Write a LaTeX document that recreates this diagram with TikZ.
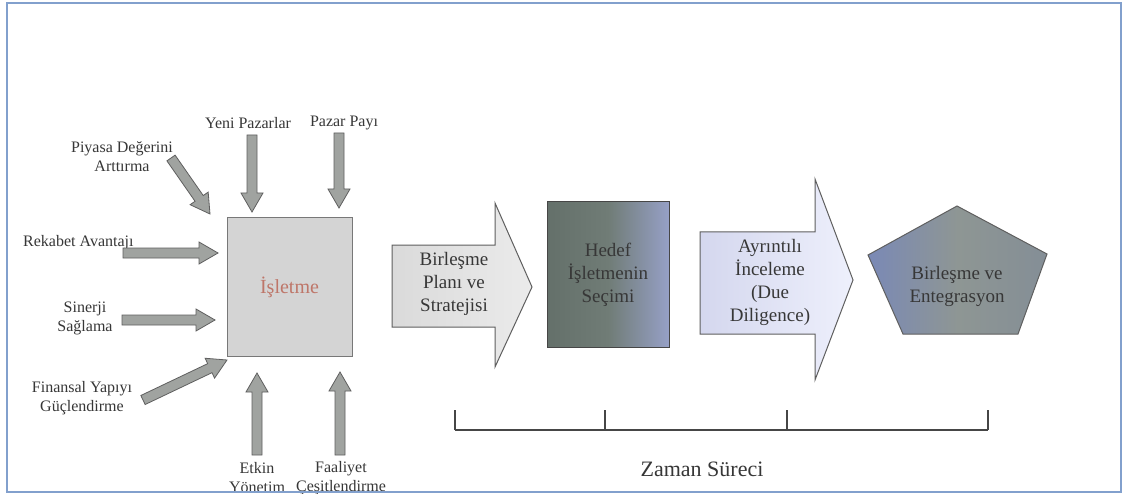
\documentclass[tikz,border=0pt]{standalone}
\usepackage{fontspec}
\setmainfont{Liberation Serif}
\usetikzlibrary{calc}

\definecolor{framecol}{RGB}{130,160,205}
\definecolor{labelcol}{RGB}{55,55,55}
\definecolor{boxfill}{RGB}{212,212,212}
\definecolor{boxline}{RGB}{120,120,120}
\definecolor{istext}{RGB}{190,118,105}
\definecolor{arrowfill}{RGB}{160,163,160}
\definecolor{arrowline}{RGB}{95,95,95}
\definecolor{planL}{RGB}{218,218,218}
\definecolor{planR}{RGB}{235,235,235}
\definecolor{hedefL}{RGB}{100,112,106}
\definecolor{hedefM}{RGB}{112,124,118}
\definecolor{hedefR}{RGB}{150,160,198}
\definecolor{incL}{RGB}{212,215,238}
\definecolor{incR}{RGB}{238,240,252}
\definecolor{pentL}{RGB}{122,137,182}
\definecolor{pentM}{RGB}{142,150,148}
\definecolor{pentR}{RGB}{132,142,150}
\definecolor{linecol}{RGB}{70,70,70}

% gray block arrow between two named coordinates
\newcommand{\fatarrow}[2]{%
  \filldraw[smallarrow] ($(#1)!5pt!90:(#2)$)
    -- ($(#2)!19pt!(#1)!5pt!90:(#2)$)
    -- ($(#2)!19pt!(#1)!11pt!90:(#2)$)
    -- (#2)
    -- ($(#2)!19pt!(#1)!11pt!-90:(#2)$)
    -- ($(#2)!19pt!(#1)!5pt!-90:(#2)$)
    -- ($(#1)!5pt!-90:(#2)$) -- cycle;}

\begin{document}
\begin{tikzpicture}[x=1pt, y=-1pt,
  lbl/.style={text=labelcol, align=center, inner sep=0pt, font=\fontsize{16}{19}\selectfont},
  inner/.style={text=labelcol, align=center, inner sep=0pt, font=\fontsize{19}{23}\selectfont},
  smallarrow/.style={fill=arrowfill, draw=arrowline, line width=0.8pt, line join=miter},
  bigarrow/.style={draw=arrowline, line width=1pt},
  isbox/.style={draw=boxline, fill=boxfill, line width=1pt, minimum width=125pt, minimum height=138pt,
    text=istext, font=\fontsize{20}{24}\selectfont},
  hedefbox/.style={draw=linecol, left color=hedefL, right color=hedefR, middle color=hedefM,
    line width=1pt, minimum width=122pt, minimum height=145pt, align=center, text=labelcol,
    font=\fontsize{19}{23}\selectfont},
  timeline/.style={draw=linecol, line width=2.5pt}]

\useasboundingbox (0,0) rectangle (1123,494);
\clip (0,0) rectangle (1123,494);
\fill[white] (0,0) rectangle (1123,494);

% centre box
\node[isbox] (isletme) at (289.5,287) {İşletme};

% labels round the box
\node[lbl] (piyasa) at (122,157) {Piyasa Değerini\\Arttırma};
\node[lbl, anchor=west] (rekabet) at (23,243) {Rekabet Avantajı};
\node[lbl] (sinerji) at (85,318) {Sinerji\\Sağlama};
\node[lbl] (finansal) at (82,398) {Finansal Yapıyı\\Güçlendirme};
\node[lbl] (yeni) at (248,123) {Yeni Pazarlar};
\node[lbl] (pazar) at (344,123) {Pazar Payı};
\node[lbl] (etkin) at (257,478) {Etkin\\Yönetim};
\node[lbl] (faaliyet) at (341,478) {Faaliyet\\Çeşitlendirme};

% arrow ends
\coordinate (piyasa-s) at (171,158);   \coordinate (piyasa-e) at (210,214);
\coordinate (rekabet-s) at (123,253);  \coordinate (rekabet-e) at (218,253);
\coordinate (sinerji-s) at (122,320);  \coordinate (sinerji-e) at (215,320);
\coordinate (finansal-s) at (143,400); \coordinate (finansal-e) at (227,360);
\coordinate (yeni-s) at (252,135);     \coordinate (yeni-e) at (252,212);
\coordinate (pazar-s) at (339,133);    \coordinate (pazar-e) at (339,208);
\coordinate (etkin-s) at (257,455);    \coordinate (etkin-e) at (257,373);
\coordinate (faaliyet-s) at (340,455); \coordinate (faaliyet-e) at (340,372);

\foreach \a in {piyasa, rekabet, sinerji, finansal, yeni, pazar, etkin, faaliyet}
  \fatarrow{\a-s}{\a-e};

% process steps
\draw[bigarrow, left color=planL, right color=planR]
  (392,245) -- (495,245) -- (495,203) -- (532,287) -- (495,367) -- (495,327) -- (392,327) -- cycle;
\node[inner] (plan) at (454,284) {Birleşme\\Planı ve\\Stratejisi};

\node[hedefbox] (hedef) at (608,274.5) {Hedef\\İşletmenin\\Seçimi};

\draw[bigarrow, left color=incL, right color=incR]
  (700,232) -- (815,232) -- (815,179) -- (853,280) -- (815,380) -- (815,334) -- (700,334) -- cycle;
\node[inner] (inceleme) at (770,282) {Ayrıntılı\\İnceleme\\(Due\\Diligence)};

\draw[bigarrow, left color=pentL, right color=pentR, middle color=pentM]
  (957,206) -- (1047,254) -- (1018,334) -- (903,334) -- (868,255) -- cycle;
\node[inner] (entegrasyon) at (957,286) {Birleşme ve\\Entegrasyon};

% time line
\coordinate (t0) at (455,430);
\coordinate (t1) at (605,430);
\coordinate (t2) at (787,430);
\coordinate (t3) at (988,430);
\draw[timeline] (t0) -- (t3);
\foreach \t in {t0, t1, t2, t3}
  \draw[timeline] (\t) -- ++(0,-20);
\node[text=labelcol, font=\fontsize{22}{26}\selectfont] (zaman) at (702,469) {Zaman Süreci};

% frame
\draw[framecol, line width=2pt] (7,3) rectangle (1121,492);
\end{tikzpicture}
\end{document}
